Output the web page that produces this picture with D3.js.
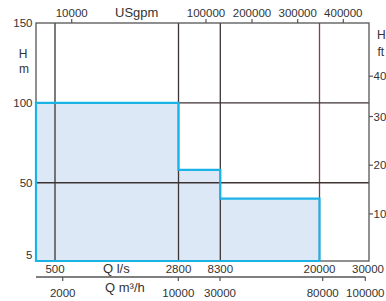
<!DOCTYPE html>
<html><head><meta charset="utf-8">
<script src="https://cdn.jsdelivr.net/npm/d3@7/dist/d3.min.js"></script>
<style>
html,body{margin:0;padding:0;background:#fff;overflow:hidden}
text{font-family:"Liberation Sans",Arial,sans-serif;fill:#333}
</style></head>
<body><svg id="c" width="386" height="301"></svg>
<script>
// ---- data ----
const segStartLs = [0, 2800, 8300, 20000];      // l/s segment boundaries
const segHeadM   = [100, 58, 40, 40];           // max head (m) per segment
const gridLs     = [500, 2800, 8300, 20000];    // vertical reference lines
const gridM      = [50, 100];                   // horizontal reference lines
const lsTicks    = [500, 2800, 8300, 20000, 30000];
const m3hTicks   = [2000, 10000, 30000, 80000, 100000];
const gpmTicks   = [10000, 100000, 200000, 300000, 400000];
const mTicks     = [150, 100, 50, 5];
const ftTicks    = [400, 300, 200, 100];

// ---- layout ----
const L = 36, R = 369, T = 23, B = 261;
const svg = d3.select("#c");

// the original chart uses a hand-drawn, non-uniform flow axis -> piecewise scales
const xLs  = d3.scaleLinear().domain([0, 500, 2800, 8300, 20000, 30000]).range([L, 55, 178.5, 220.3, 319.5, R]);
const xM3h = d3.scaleLinear().domain([0, 2000, 10000, 30000, 80000, 100000]).range([L, 62.7, 178.3, 220, 322.7, 365.3]);
const xGpm = d3.scaleLinear().domain([0, 10000, 100000, 200000, 300000, 400000]).range([L, 71.7, 206, 252, 297.7, 343.3]);
const yM   = d3.scaleLinear().domain([1, 150]).range([B, T]);
const yFt  = d3.scaleLinear().domain([0, 300, 400]).range([yM(0), yM(300*0.3048), yM(116.7)]);

// ---- filled region ----
const pts = segStartLs.map((q,i)=>({q, h:segHeadM[i]}));
const area = d3.area().curve(d3.curveStepAfter)
  .x(d=>xLs(d.q)).y0(yM(1)).y1(d=>yM(d.h));
svg.append("path").datum(pts).attr("d", area)
  .attr("fill", "#dce8f6").attr("stroke", "none");

// ---- grid / frame ----
const g = svg.append("g");
g.selectAll(".vl").data(gridLs).enter().append("line")
  .attr("x1", d=>xLs(d)).attr("x2", d=>xLs(d)).attr("y1", T).attr("y2", B)
  .attr("stroke", (d,i)=> i===gridLs.length-1 ? "#7a4545" : "#3a3434").attr("stroke-width", 1.3);
g.selectAll(".hl").data(gridM).enter().append("line")
  .attr("x1", L).attr("x2", R).attr("y1", d=>yM(d)).attr("y2", d=>yM(d))
  .attr("stroke", "#3e3333").attr("stroke-width", 1.3);
g.append("rect").attr("x", L).attr("y", T).attr("width", R-L).attr("height", B-T)
  .attr("fill", "none").attr("stroke", "#555").attr("stroke-width", 1.3);

// outline on top
svg.append("path").datum(pts).attr("d", area)
  .attr("fill", "none").attr("stroke", "#1bb3e6").attr("stroke-width", 2.2);

// ---- left axis (m) ----
svg.selectAll(".ml").data(mTicks).enter().append("text")
  .attr("x", 32.5).attr("y", d=>yM(d)+4).attr("text-anchor","end")
  .attr("font-size", 11.5).text(d=>d);
svg.append("text").attr("x", 23).attr("y", 57.5).attr("text-anchor","middle").attr("font-size", 12).text("H");
svg.append("text").attr("x", 24).attr("y", 72.5).attr("text-anchor","middle").attr("font-size", 12).text("m");

// ---- right axis (ft) ----
const rAx = svg.append("g");
rAx.selectAll("line").data(ftTicks).enter().append("line")
  .attr("x1", R).attr("x2", R+4).attr("y1", d=>yFt(d)).attr("y2", d=>yFt(d))
  .attr("stroke", "#555").attr("stroke-width", 1.2);
rAx.selectAll("text").data(ftTicks).enter().append("text")
  .attr("x", R+4.5).attr("y", d=>yFt(d)+4).attr("font-size", 11.5).text(d=>d);
svg.append("text").attr("x", 377).attr("y", 38.5).attr("font-size", 12).text("H");
svg.append("text").attr("x", 377.5).attr("y", 56).attr("font-size", 12).text("ft");

// ---- top axis (USgpm) ----
svg.selectAll(".gt").data(gpmTicks).enter().append("line")
  .attr("x1", d=>xGpm(d)).attr("x2", d=>xGpm(d)).attr("y1", T-4).attr("y2", T)
  .attr("stroke", "#555").attr("stroke-width", 1.2);
svg.selectAll(".gl").data(gpmTicks).enter().append("text")
  .attr("x", d=>xGpm(d)).attr("y", 17.3).attr("text-anchor","middle")
  .attr("font-size", 11.5).text(d=>d);
svg.append("text").attr("x", 115).attr("y", 17.3).attr("font-size", 13).text("USgpm");

// ---- bottom l/s labels ----
svg.selectAll(".ll").data(lsTicks).enter().append("text")
  .attr("x", d=>xLs(d)-(d===30000?1:0)).attr("y", 273.3).attr("text-anchor","middle")
  .attr("font-size", 11.5).text(d=>d);
svg.append("text").attr("x", 103).attr("y", 273.3).attr("font-size", 13).text("Q l/s");

// ---- bottom m3/h axis ----
svg.append("line").attr("x1", L).attr("x2", xM3h(100000)).attr("y1", 277).attr("y2", 277)
  .attr("stroke", "#555").attr("stroke-width", 1.3);
svg.selectAll(".mt").data(m3hTicks).enter().append("line")
  .attr("x1", d=>xM3h(d)).attr("x2", d=>xM3h(d)).attr("y1", 277).attr("y2", 281)
  .attr("stroke", "#555").attr("stroke-width", 1.2);
svg.selectAll(".mtl").data(m3hTicks).enter().append("text")
  .attr("x", d=>xM3h(d)).attr("y", 296.5).attr("text-anchor","middle")
  .attr("font-size", 11.5).text(d=>d);
svg.append("text").attr("x", 105).attr("y", 291.5).attr("font-size", 13).text("Q m³/h");
</script></body></html>
